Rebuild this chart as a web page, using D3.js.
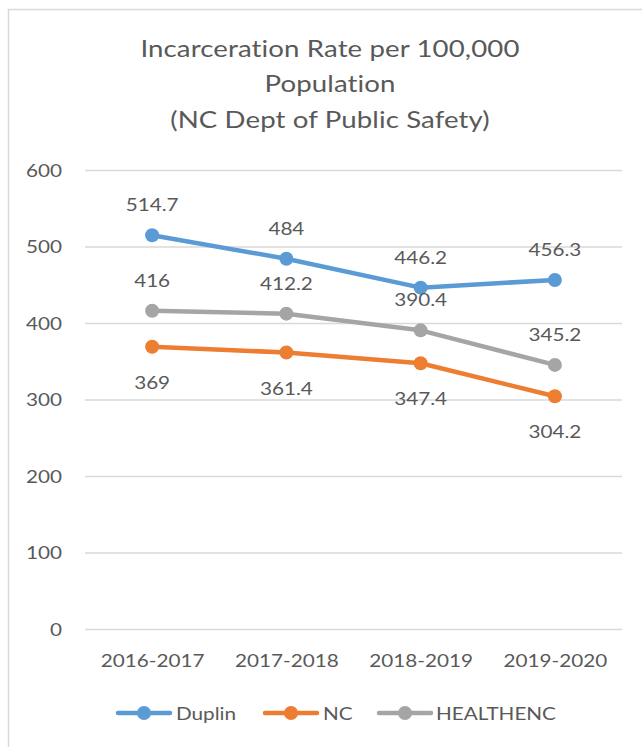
<!DOCTYPE html>
<html>
<head>
<meta charset="utf-8">
<script src="https://cdn.jsdelivr.net/npm/d3@7"></script>
<style>
  html, body { margin: 0; padding: 0; background: #ffffff; }
  svg { display: block; }
  text {
    font-family: Lato, "Open Sans", sans-serif;
    fill: #595959;
    font-variant-ligatures: none;
    font-feature-settings: "liga" 0, "clig" 0, "dlig" 0;
  }
  .title { letter-spacing: 0.1px; }
</style>
</head>
<body>
<svg id="chart" width="642" height="747"></svg>
<script>
// Incarceration rate per 100,000 population, by fiscal year
const categories = ["2016-2017", "2017-2018", "2018-2019", "2019-2020"];
const duplin = [514.7, 484, 446.2, 456.3];
const nc = [369, 361.4, 347.4, 304.2];
const healthenc = [416, 412.2, 390.4, 345.2];
const yTicks = [0, 100, 200, 300, 400, 500, 600];
const titleLines = ["Incarceration Rate per 100,000", "Population", "(NC Dept of Public Safety)"];

const seriesList = [
  { name: "Duplin", values: duplin, color: "#5B9BD5", labelPos: "above" },
  { name: "NC", values: nc, color: "#ED7D31", labelPos: "below" },
  { name: "HEALTHENC", values: healthenc, color: "#A5A5A5", labelPos: "above" }
];

const SX = 1.15;          // horizontal text widening
const textColor = "#595959";
const gridColor = "#D9D9D9";

const svg = d3.select("#chart");

// chart frame
svg.append("rect")
  .attr("x", 8.5).attr("y", 9.5)
  .attr("width", 700).attr("height", 800)
  .attr("fill", "none")
  .attr("stroke", gridColor)
  .attr("stroke-width", 1.5);

const plot = { left: 85, right: 622, top: 170, bottom: 629 };

const x = d3.scalePoint()
  .domain(categories)
  .range([plot.left, plot.right])
  .padding(0.5);

const y = d3.scaleLinear()
  .domain([0, 600])
  .range([plot.bottom, plot.top]);

function stretchedText(parent, tx, ty, str, size, anchor) {
  return parent.append("text")
    .attr("transform", `translate(${tx},${ty}) scale(${SX},1)`)
    .attr("text-anchor", anchor || "middle")
    .style("font-size", size + "px")
    .text(str);
}

// title
titleLines.forEach((t, i) => {
  stretchedText(svg, 330, [57, 92, 128][i], t, 24).attr("class", "title");
});

// y axis with gridlines
const yAxis = svg.append("g")
  .attr("transform", `translate(${plot.left},0)`)
  .call(d3.axisLeft(y).tickValues(yTicks).tickSize(-(plot.right - plot.left)).tickPadding(0));
yAxis.select(".domain").remove();
yAxis.selectAll(".tick line")
  .attr("stroke", gridColor)
  .attr("stroke-width", 1.4);
yAxis.selectAll(".tick text")
  .attr("x", -23 / SX)
  .attr("dy", "0.35em")
  .attr("transform", `scale(${SX},1)`)
  .attr("fill", textColor)
  .style("font-size", "18px")
  .style("font-family", "Lato, 'Open Sans', sans-serif");

// x axis labels
const xAxis = svg.append("g")
  .attr("transform", `translate(0,${plot.bottom})`)
  .call(d3.axisBottom(x).tickSize(0));
xAxis.select(".domain").remove();
xAxis.selectAll(".tick text")
  .attr("y", 38)
  .attr("dy", 0)
  .attr("transform", `scale(${SX},1)`)
  .attr("fill", textColor)
  .style("font-size", "18px")
  .style("font-family", "Lato, 'Open Sans', sans-serif");

// series lines, markers and value labels
const line = d3.line()
  .x((d, i) => x(categories[i]))
  .y(d => y(d));

seriesList.forEach(s => {
  const g = svg.append("g");
  g.append("path")
    .datum(s.values)
    .attr("d", line)
    .attr("fill", "none")
    .attr("stroke", s.color)
    .attr("stroke-width", 4.5)
    .attr("stroke-linejoin", "round")
    .attr("stroke-linecap", "round");
  g.selectAll("circle")
    .data(s.values)
    .join("circle")
    .attr("cx", (d, i) => x(categories[i]))
    .attr("cy", d => y(d))
    .attr("r", 7)
    .attr("fill", s.color);
});

seriesList.forEach(s => {
  s.values.forEach((v, i) => {
    const off = s.labelPos === "above" ? -24 : 42;
    stretchedText(svg, x(categories[i]), y(v) + off, String(v), 18);
  });
});

// legend
const legendItems = [
  { lx: 116, tx: 176 },
  { lx: 263, tx: 323 },
  { lx: 377, tx: 436 }
];
const legendY = 713;
seriesList.forEach((s, i) => {
  const it = legendItems[i];
  const g = svg.append("g");
  g.append("line")
    .attr("x1", it.lx + 2).attr("x2", it.lx + 54)
    .attr("y1", legendY).attr("y2", legendY)
    .attr("stroke", s.color)
    .attr("stroke-width", 4.5)
    .attr("stroke-linecap", "round");
  g.append("circle")
    .attr("cx", it.lx + 28).attr("cy", legendY)
    .attr("r", 7)
    .attr("fill", s.color);
  stretchedText(g, it.tx, legendY + 6.5, s.name, 18, "start");
});
</script>
</body>
</html>
